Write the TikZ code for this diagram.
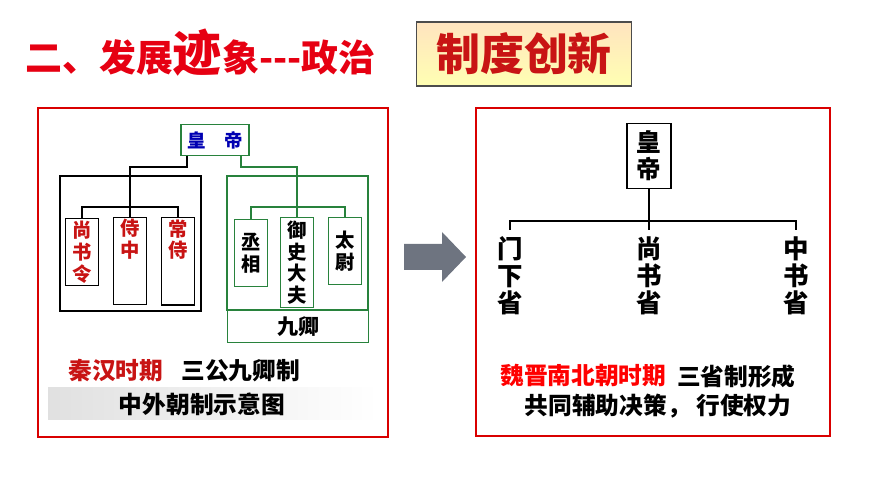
\documentclass[tikz,border=0pt]{standalone}
\usepackage{fontspec}
\setmainfont{Noto Sans CJK SC}
\usetikzlibrary{positioning, calc}
\definecolor{titlered}{RGB}{230,0,18}
\definecolor{boxgreen}{RGB}{40,130,60}
\definecolor{darkred}{RGB}{200,20,20}
\definecolor{arrowgray}{RGB}{110,116,128}
\tikzset{
    office/.style={draw, thick, minimum width=0.66cm, minimum height=1.34cm, anchor=north, inner sep=1pt, align=center, font=\fontsize{11}{12.5}\selectfont\bfseries},
    province/.style={anchor=north, align=center, inner sep=0pt, font=\fontsize{14.5}{15.5}\selectfont\bfseries},
    caption/.style={inner sep=0pt, font=\fontsize{13.5}{14}\selectfont\bfseries},
}
\begin{document}
\begin{tikzpicture}[x=0.02cm, y=-0.02cm]
    \useasboundingbox (0, 0) rectangle (870, 489);

    % title
    \node[anchor=west, text=titlered, inner sep=0pt, font=\fontsize{21}{21}\selectfont\bfseries] (title) at (25, 53)
        {二、发展{\fontsize{28}{28}\selectfont 迹}象{-}{-}{-}政治};
    \node[draw=black!70, thick, top color=yellow!15!orange!25, bottom color=yellow!30, minimum width=4.3cm, minimum height=1.28cm, text=darkred, font=\fontsize{25}{25}\selectfont\bfseries] (novel) at (524, 54) {制度创新};

    % left panel
    \draw[red!85!black, thick] (38, 108) rectangle (388, 437);
    \draw[thick] (60, 176) rectangle (201, 311);
    \draw[boxgreen, thick] (227, 176) rectangle (368, 310);
    \node[draw=boxgreen, thick, minimum width=2.82cm, minimum height=0.64cm, anchor=north west, font=\fontsize{12}{12}\selectfont\bfseries] (nine) at (227, 310) {九卿};
    \node[draw=boxgreen, thick, minimum width=1.36cm, minimum height=0.62cm, text=blue!70!black, font=\fontsize{10.5}{10.5}\selectfont\bfseries] (emp) at (215, 140) {皇\quad 帝};

    \node[office, text=darkred] (shang) at (82, 218) {尚\\书\\令};
    \node[office, text=darkred] (shi) at (130, 217) {侍\\中\\[1.2em]};
    \node[office, text=darkred] (chang) at (178, 217) {常\\侍\\[1.2em]};
    \node[office, draw=boxgreen] (cheng) at (251, 219) {丞\\相};
    \node[office, draw=boxgreen, minimum height=1.8cm] (yushi) at (297, 217) {御\\史\\大\\夫};
    \node[office, draw=boxgreen] (taiwei) at (345, 217) {太\\尉};

    \draw[thick] (187, 156) |- (130, 167) -- (shi.north);
    \draw[thick] (shang.north) |- (106, 207) -| (chang.north);
    \draw[boxgreen, thick] (241, 156) |- (297, 167) -- (yushi.north);
    \draw[boxgreen, thick] (cheng.north) |- (300, 207) -| (taiwei.north);

    \node[caption, anchor=west, text=darkred] (qinhan) at (68, 371) {秦汉时期};
    \node[caption, right=0.35cm of qinhan] (sangong) {三公九卿制};
    \fill[left color=black!12, right color=white] (48, 388) rectangle (378, 420);
    \node[caption] (waichao) at (202, 404) {中外朝制示意图};

    % arrow
    \fill[arrowgray] (404, 244) -- (442, 244) -- (442, 232) -- (466, 257) -- (442, 282) -- (442, 270) -- (404, 270) -- cycle;

    % right panel
    \draw[red!85!black, thick] (476, 108) rectangle (830, 436);
    \node[draw, thick, minimum width=0.88cm, minimum height=1.3cm, align=center, inner sep=1pt, font=\fontsize{14}{15.5}\selectfont\bfseries] (emp2) at (649, 156) {皇\\帝};
    \node[province] (menxia) at (510, 236) {门\\下\\省};
    \node[province] (shangshu) at (649, 236) {尚\\书\\省};
    \node[province] (zhongshu) at (796, 236) {中\\书\\省};
    \draw[thick] (emp2.south) -- (649, 221);
    \draw[thick] ($(menxia.north)+(0,-6)$) |- (649, 221) -| ($(zhongshu.north)+(0,-6)$);
    \draw[thick] (649, 221) -- ($(shangshu.north)+(0,-6)$);

    \node[caption, anchor=west, text=red] (weijin) at (500, 376) {魏晋南北朝时期};
    \node[caption, right=0.2cm of weijin] (sansheng) {三省制形成};
    \node[caption] (fuzhu) at (658, 406) {共同辅助决策，\ 行使权力};
\end{tikzpicture}
\end{document}
